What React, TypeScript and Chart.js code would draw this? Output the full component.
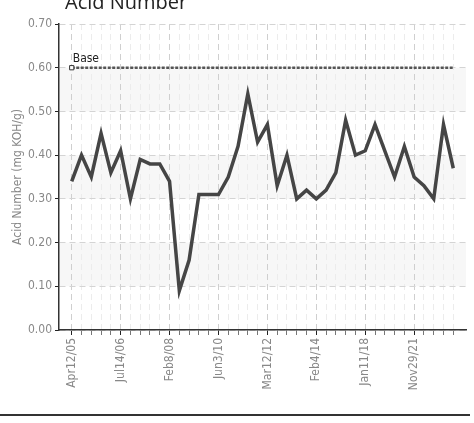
import React, { useEffect, useRef } from "react";
import { Chart, registerables } from "chart.js";

Chart.register(...registerables);

const title = "Acid Number";
const yAxisTitle = "Acid Number (mg KOH/g)";
const baseLabel = "Base";
const baseValue = 0.6;

// one entry per sample; labels shown every 5th sample
const sampleLabels = [
  "Apr12/05", "", "", "", "",
  "Jul14/06", "", "", "", "",
  "Feb8/08", "", "", "", "",
  "Jun3/10", "", "", "", "",
  "Mar12/12", "", "", "", "",
  "Feb4/14", "", "", "", "",
  "Jan11/18", "", "", "", "",
  "Nov29/21", "", "", "", "",
];

const acidValues = [
  0.34, 0.40, 0.35, 0.45, 0.36,
  0.41, 0.30, 0.39, 0.38, 0.38,
  0.34, 0.09, 0.16, 0.31, 0.31,
  0.31, 0.35, 0.42, 0.54, 0.43,
  0.47, 0.33, 0.40, 0.30, 0.32,
  0.30, 0.32, 0.36, 0.48, 0.40,
  0.41, 0.47, 0.41, 0.35, 0.42,
  0.35, 0.33, 0.30, 0.47, 0.37,
];

const yTicks = [0, 0.1, 0.2, 0.3, 0.4, 0.5, 0.6, 0.7];
const shadedBands = [[0.1, 0.2], [0.3, 0.4], [0.5, 0.6]];

const NARROW = '"Liberation Sans Narrow", "DejaVu Sans Condensed", "Arial Narrow", sans-serif';

export default function App() {
  const ref = useRef<HTMLCanvasElement | null>(null);

  useEffect(() => {
    document.body.style.margin = "0";
    const canvas = ref.current!;
    const n = acidValues.length;

    const decor = {
      id: "decor",
      beforeDraw(chart: any) {
        const { ctx, chartArea, scales } = chart;
        const y = scales.y;
        ctx.save();
        ctx.fillStyle = "#f7f7f7";
        for (const [a, b] of shadedBands) {
          const t = y.getPixelForValue(b);
          const bt = y.getPixelForValue(a);
          ctx.fillRect(chartArea.left, t, chartArea.right - chartArea.left, bt - t);
        }
        ctx.restore();
      },
      afterDraw(chart: any) {
        const { ctx, scales } = chart;
        ctx.save();
        // title
        ctx.fillStyle = "#222";
        ctx.font = '20px "Open Sans", sans-serif';
        ctx.textAlign = "left";
        ctx.textBaseline = "alphabetic";
        ctx.fillText(title, 65, 9);
        // base label
        ctx.font = "12px " + NARROW;
        ctx.fillStyle = "#222";
        ctx.fillText(baseLabel, scales.x.getPixelForValue(0) + 1, scales.y.getPixelForValue(baseValue) - 6);
        // bottom rule
        ctx.fillStyle = "#333";
        ctx.fillRect(0, 414, 470, 2);
        ctx.restore();
      },
    };

    const chart = new Chart(canvas, {
      type: "line",
      data: {
        datasets: [
          {
            label: "Acid Number",
            data: acidValues.map((v, i) => ({ x: i, y: v })),
            borderColor: "#454545",
            borderWidth: 3.5,
            pointRadius: 0,
            tension: 0,
            order: 1,
          },
          {
            label: baseLabel,
            data: [
              { x: 0, y: baseValue },
              { x: n - 1, y: baseValue },
            ],
            borderColor: "#555",
            borderWidth: 2.5,
            borderDash: [3, 1.5],
            pointStyle: "rect",
            pointRadius: [3, 0],
            pointBackgroundColor: "#fff",
            pointBorderColor: "#333",
            pointBorderWidth: 1,
            tension: 0,
            order: 0,
          },
        ],
      },
      options: {
        animation: false,
        responsive: false,
        layout: { padding: { left: 0, top: 24, right: 8, bottom: 0 } },
        plugins: {
          legend: { display: false },
          tooltip: { enabled: false },
          title: { display: false },
        },
        scales: {
          x: {
            type: "linear",
            min: -1.3,
            max: n - 1 + 1.3,
            afterBuildTicks(scale: any) {
              scale.ticks = sampleLabels.map((_, i) => ({ value: i }));
            },
            afterFit(scale: any) {
              scale.height = 93;
            },
            ticks: {
              autoSkip: false,
              minRotation: 90,
              maxRotation: 90,
              padding: 3,
              color: "#888",
              font: { size: 12, family: NARROW },
              callback: (v: any) => sampleLabels[Math.round(Number(v))] ?? "",
            },
            grid: {
              color: (c: any) =>
                c.tick && Math.round(c.tick.value) % 5 === 0 ? "#cfcfcf" : "#ececec",
              tickColor: (c: any) =>
                c.tick && Math.round(c.tick.value) % 5 === 0 ? "#222" : "#777",
              tickLength: 5,
              tickBorderDash: [],
              lineWidth: 1,
            },
            border: { color: "#333", width: 1.5, dash: [6, 4] },
          },
          y: {
            min: 0,
            max: 0.7,
            afterBuildTicks(scale: any) {
              scale.ticks = yTicks.map((v) => ({ value: v }));
            },
            afterFit(scale: any) {
              scale.width = 59;
            },
            ticks: {
              color: "#888",
              padding: 3,
              font: { size: 12, family: NARROW },
              callback: (v: any) => Number(v).toFixed(2),
            },
            grid: {
              color: "#d4d4d4",
              tickColor: "#222",
              tickLength: 4,
              tickBorderDash: [],
              lineWidth: 1,
            },
            border: { color: "#333", width: 1.5, dash: [6, 4] },
            title: {
              display: true,
              text: yAxisTitle,
              color: "#888",
              font: { size: 12, family: NARROW },
              padding: { top: 11, bottom: 0 },
            },
          },
        },
      },
      plugins: [decor],
    } as any);

    return () => chart.destroy();
  }, []);

  return (
    <div style={{ width: 474, height: 423 }}>
      <canvas ref={ref} width={474} height={423} style={{ display: "block" }} />
    </div>
  );
}
